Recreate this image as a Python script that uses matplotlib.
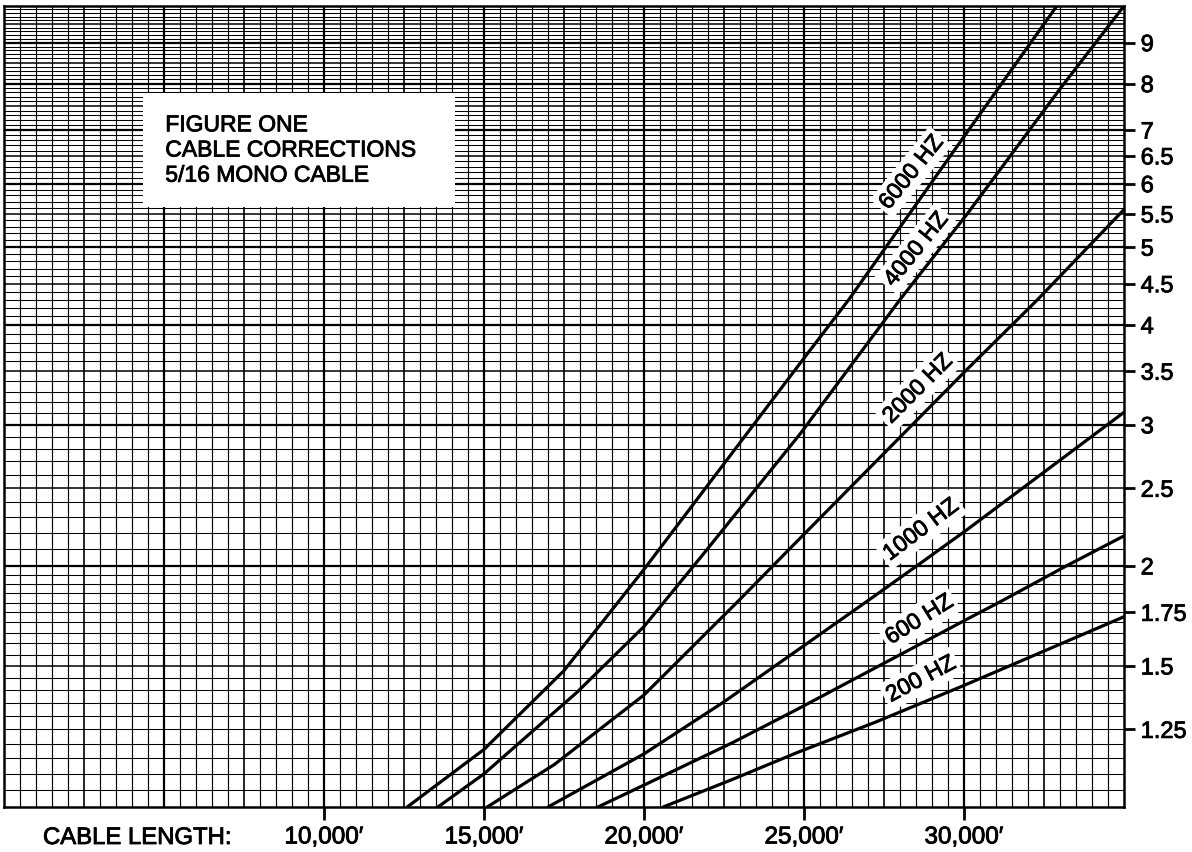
import numpy as np
import matplotlib
matplotlib.use("Agg")
import matplotlib.pyplot as plt
import matplotlib.patheffects as pe
from matplotlib.patches import Rectangle
from matplotlib.ticker import NullLocator

#--------------------------------------------------
# correction factor vs cable length (ft)
len_6000 = [12600, 15000, 17500, 20000, 24900, 26400, 30200, 32900]
cor_6000 = [1.00, 1.18, 1.48, 1.98, 3.59, 4.30, 7.05, 10.0]

len_4000 = [13560, 15000, 17900, 20000, 21900, 24900, 28000, 30100, 33000, 35000]
cor_4000 = [1.00, 1.10, 1.39, 1.68, 2.08, 2.93, 4.30, 5.50, 7.88, 10.0]

len_2000 = [15100, 17200, 20000, 22900, 24900, 30100, 32300, 35000]
cor_2000 = [1.00, 1.13, 1.38, 1.80, 2.17, 3.52, 4.30, 5.57]

len_1000 = [17000, 20000, 22500, 24800, 27000, 28600, 30100, 35000]
cor_1000 = [1.00, 1.165, 1.353, 1.57, 1.81, 2.01, 2.22, 3.11]

len_600 = [18560, 20000, 22800, 24800, 30060, 31200, 33200, 35000]
cor_600 = [1.00, 1.065, 1.205, 1.325, 1.713, 1.81, 2.00, 2.18]

len_200 = [20600, 22800, 24800, 27250, 30030, 35000]
cor_200 = [1.00, 1.084, 1.17, 1.277, 1.42, 1.728]

curves = [
    (len_6000, cor_6000, "6000 HZ"),
    (len_4000, cor_4000, "4000 HZ"),
    (len_2000, cor_2000, "2000 HZ"),
    (len_1000, cor_1000, "1000 HZ"),
    (len_600, cor_600, "600 HZ"),
    (len_200, cor_200, "200 HZ"),
]

xticks = [10000, 15000, 20000, 25000, 30000]
xticklabels = ["10,000\u2032", "15,000\u2032", "20,000\u2032", "25,000\u2032", "30,000\u2032"]

yticks = [1.25, 1.5, 1.75, 2, 2.5, 3, 3.5, 4, 4.5, 5, 5.5, 6, 6.5, 7, 8, 9]
yticklabels = ["1.25", "1.5", "1.75", "2", "2.5", "3", "3.5", "4", "4.5",
               "5", "5.5", "6", "6.5", "7", "8", "9"]

title_lines = "FIGURE ONE\nCABLE CORRECTIONS\n5/16 MONO CABLE"

# label placement (length, factor, angle)
label_pos = {
    "6000 HZ": (28350, 6.20, 51),
    "4000 HZ": (28500, 4.97, 51),
    "2000 HZ": (28550, 3.33, 45),
    "1000 HZ": (28650, 2.22, 37),
    "600 HZ":  (28600, 1.715, 32),
    "200 HZ":  (28650, 1.445, 28),
}

#--------------------------------------------------
plt.rc('font', family=['Liberation Sans', 'DejaVu Sans'])
thick = [pe.withStroke(linewidth=0.6, foreground='black')]

W, H = 1192, 852
fig = plt.figure(figsize=(W/100, H/100), dpi=100)
ax = fig.add_axes([4/W, 1 - 807/H, 1120/W, 801/H])

ax.set_yscale('log')
ax.set_xlim(0, 35000)
ax.set_ylim(1, 10)

#--------------------------------------------------
# graph paper
for xv in np.arange(500, 35000, 500):
    if xv % 5000 == 0:
        lw = 1.6
    elif xv % 2500 == 0:
        lw = 1.2
    else:
        lw = 0.85
    ax.axvline(xv, color='black', lw=lw, zorder=1)

hl = list(np.arange(1.05, 2.0, 0.05)) + list(np.arange(2.0, 10.0, 0.1))
for yv in hl:
    yr = round(yv, 2)
    if abs(yr - round(yr)) < 1e-6:
        lw = 1.6
    elif abs(yr*2 - round(yr*2)) < 1e-6:
        lw = 1.1
    else:
        lw = 0.75
    ax.axhline(yr, color='black', lw=lw, zorder=1)

#--------------------------------------------------
for xs, ys, name in curves:
    ax.plot(xs, ys, color='black', lw=2.3, solid_capstyle='round',
            solid_joinstyle='round', zorder=4)
    lx, ly, rot = label_pos[name]
    ax.text(lx, ly, name, rotation=rot, rotation_mode='anchor',
            ha='center', va='center', fontsize=16.5, zorder=3,
            path_effects=thick,
            bbox=dict(facecolor='white', edgecolor='none', pad=2.5))

# title box
ax.add_patch(Rectangle((0.124, 0.749), 0.279, 0.142, transform=ax.transAxes,
                       facecolor='white', edgecolor='none', zorder=3))
ax.text(0.144, 0.866, title_lines, transform=ax.transAxes, ha='left', va='top',
        fontsize=16.5, linespacing=1.12, zorder=5, path_effects=thick)

#--------------------------------------------------
for s in ax.spines.values():
    s.set_linewidth(1.8)

ax.yaxis.tick_right()
ax.set_yticks(yticks)
ax.set_yticklabels(yticklabels)
ax.yaxis.set_minor_locator(NullLocator())
ax.tick_params(axis='y', which='major', direction='out', length=8, width=2,
               pad=4, labelsize=17)

ax.set_xticks(xticks)
ax.set_xticklabels(xticklabels)
ax.xaxis.set_minor_locator(NullLocator())
ax.tick_params(axis='x', which='major', direction='out', length=9, width=2,
               pad=5, labelsize=17.5)

for t in ax.get_xticklabels() + ax.get_yticklabels():
    t.set_path_effects(thick)

fig.text(43/W, 1 - 838/H, "CABLE LENGTH:", ha='left', va='center',
         fontsize=17.2, path_effects=thick)

plt.savefig('out.png', dpi=100)
